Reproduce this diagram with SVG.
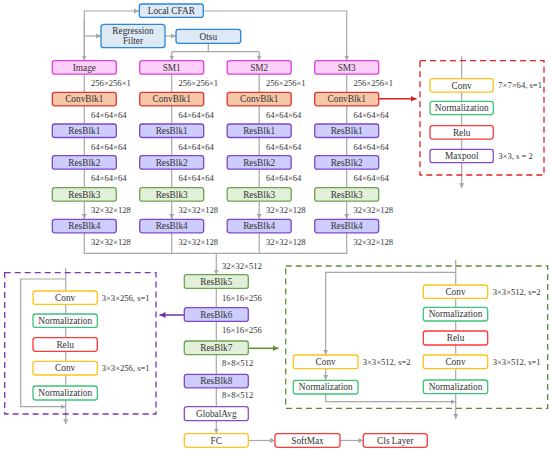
<svg xmlns="http://www.w3.org/2000/svg" width="550" height="454" viewBox="0 0 550 454" font-family="'Liberation Serif', 'DejaVu Serif', serif">
<defs>
<style>
text{font-family:'Liberation Serif','DejaVu Serif',serif;fill:#333}
.t{font-size:9.3px;text-anchor:middle}
.l{font-size:8.6px}
rect{stroke-width:1.3}
.blue{fill:#dde9f5;stroke:#2a86d6}
.img{fill:#fdd0fb;stroke:#dd3fe0}
.cb{fill:#f8c6a8;stroke:#e0352d}
.rb{fill:#cdcdfd;stroke:#8047c8}
.rg{fill:#e2f0d9;stroke:#6fa351}
.yel{fill:#fff;stroke:#ffc21a}
.nor{fill:#fff;stroke:#3cc47a}
.relu{fill:#fff;stroke:#ff3838}
.pur{fill:#fff;stroke:#8a4cc8}
.ln{fill:none;stroke:#a8a8a8;stroke-width:1.2}
.la{fill:none;stroke:#a8a8a8;stroke-width:1.2;marker-end:url(#ag)}
</style>
<marker id="ag" markerWidth="6" markerHeight="6" refX="5" refY="3" orient="auto" markerUnits="userSpaceOnUse"><path d="M0,0.5 L5,3 L0,5.5 z" fill="#a8a8a8"/></marker>
<marker id="ar" markerWidth="7" markerHeight="7" refX="6" refY="3.5" orient="auto" markerUnits="userSpaceOnUse"><path d="M0,0.5 L6,3.5 L0,6.5 z" fill="#d42020"/></marker>
<marker id="ap" markerWidth="7" markerHeight="7" refX="6" refY="3.5" orient="auto" markerUnits="userSpaceOnUse"><path d="M0,0.5 L6,3.5 L0,6.5 z" fill="#7030a0"/></marker>
<marker id="agr" markerWidth="7" markerHeight="7" refX="6" refY="3.5" orient="auto" markerUnits="userSpaceOnUse"><path d="M0,0.5 L6,3.5 L0,6.5 z" fill="#5a9030"/></marker>
</defs>
<rect width="550" height="454" fill="#fff" stroke="none"/>

<g id="connectors">
<path class="la" d="M84.3,61 V11 H139"/>
<path class="la" d="M84.3,36 H101"/>
<path class="la" d="M84.3,20 V60.5"/>
<path class="la" d="M165,36 H176"/>
<path class="ln" d="M208.3,43.3 V51.7 M171.7,51.7 H259.2"/>
<path class="la" d="M171.7,51.7 V60.5"/>
<path class="la" d="M259.2,51.7 V60.5"/>
<path class="la" d="M203.3,11 H346.7 V60.5"/>
<path class="la" d="M84.3,74.2 V92.1 M84.3,105.8 V123.8 M84.3,137.5 V155.5 M84.3,169.2 V187.5 M84.3,201.2 V219.1"/>
<path class="la" d="M171.7,74.2 V92.1 M171.7,105.8 V123.8 M171.7,137.5 V155.5 M171.7,169.2 V187.5 M171.7,201.2 V219.1"/>
<path class="la" d="M259.2,74.2 V92.1 M259.2,105.8 V123.8 M259.2,137.5 V155.5 M259.2,169.2 V187.5 M259.2,201.2 V219.1"/>
<path class="la" d="M346.7,74.2 V92.1 M346.7,105.8 V123.8 M346.7,137.5 V155.5 M346.7,169.2 V187.5 M346.7,201.2 V219.1"/>
<path class="ln" d="M84.3,232.8 V253.3 H346.7 V232.8 M171.7,232.8 V253.3 M259.2,232.8 V253.3"/>
<path class="la" d="M216.3,253.3 V274.5"/>
<path class="la" d="M216.3,288.4 V307.5 M216.3,321.4 V340.8 M216.3,354.7 V374.1 M216.3,387.8 V406.5 M216.3,420.7 V433.5"/>
<path class="la" d="M248.3,440.5 H275"/>
<path class="la" d="M340,440.5 H363.3"/>
<path d="M379,98.7 H416.5" fill="none" stroke="#d42020" stroke-width="1.5" marker-end="url(#ar)"/>
<path class="la" d="M461.7,56 V78.5 M461.7,92.1 V101.1 M461.7,114.7 V125.5 M461.7,139.1 V149.1 M461.7,162.7 V188.3"/>
<path d="M184.3,315 H159.5" fill="none" stroke="#7030a0" stroke-width="1.5" marker-end="url(#ap)"/>
<path class="la" d="M65.7,267.7 V290.8 M65.7,304.4 V313.8 M65.7,327.4 V337.5 M65.7,351.3 V361.1 M65.7,375 V385.8 M65.7,400 V424.3"/>
<path class="la" d="M65.7,279 H20.7 V406.7 H65.5"/>
<path d="M248.3,348.3 H278.5" fill="none" stroke="#5a9030" stroke-width="1.5" marker-end="url(#agr)"/>
<path class="la" d="M455.7,260 V284.8 M455.7,298.4 V307.1 M455.7,321 V330.8 M455.7,345 V354.8 M455.7,368.7 V379.8 M455.7,393.7 V419"/>
<path class="la" d="M455.7,272.3 H325.7 V354.8"/>
<path class="la" d="M325.7,368.7 V380.1"/>
<path class="la" d="M325.7,394 V401.7 H455.5"/>
</g>

<g id="dashed-frames" fill="none" stroke-width="1.8" stroke-dasharray="6,4">
<rect x="420" y="60.7" width="124" height="114.3" stroke="#e02020"/>
<rect x="4.7" y="272.7" width="151.3" height="141.3" stroke="#7a35b0"/>
<rect x="285.7" y="266" width="262" height="142.3" stroke="#5a9030"/>
</g>

<g id="local-cfar"><rect class="blue" x="139.3" y="4" width="64" height="13.4" rx="2.5"/><text class="t" x="171.3" y="14">Local CFAR</text></g>
<g id="regression-filter"><rect class="blue" x="101" y="24.3" width="64" height="23.4" rx="3"/><text class="t" x="133" y="34">Regression</text><text class="t" x="133" y="44">Filter</text></g>
<g id="otsu"><rect class="blue" x="176" y="29.3" width="64.7" height="14" rx="2.5"/><text class="t" x="208.3" y="39.6">Otsu</text></g>

<g id="image"><rect class="img" x="52.3" y="60.7" width="64" height="13.5" rx="2.5"/><text class="t" x="84.3" y="70.8">Image</text></g>
<g id="sm1"><rect class="img" x="139.7" y="60.7" width="64" height="13.5" rx="2.5"/><text class="t" x="171.7" y="70.8">SM1</text></g>
<g id="sm2"><rect class="img" x="227.2" y="60.7" width="64" height="13.5" rx="2.5"/><text class="t" x="259.2" y="70.8">SM2</text></g>
<g id="sm3"><rect class="img" x="314.7" y="60.7" width="64" height="13.5" rx="2.5"/><text class="t" x="346.7" y="70.8">SM3</text></g>

<g id="col1">
<rect class="cb" x="52.3" y="92.3" width="64" height="13.5" rx="2.5"/><text class="t" x="84.3" y="102.4">ConvBlk1</text>
<rect class="rb" x="52.3" y="124" width="64" height="13.5" rx="2.5"/><text class="t" x="84.3" y="134.1">ResBlk1</text>
<rect class="rb" x="52.3" y="155.7" width="64" height="13.5" rx="2.5"/><text class="t" x="84.3" y="165.8">ResBlk2</text>
<rect class="rg" x="52.3" y="187.7" width="64" height="13.5" rx="2.5"/><text class="t" x="84.3" y="197.8">ResBlk3</text>
<rect class="rb" x="52.3" y="219.3" width="64" height="13.5" rx="2.5"/><text class="t" x="84.3" y="229.4">ResBlk4</text>
</g>
<g id="col2">
<rect class="cb" x="139.7" y="92.3" width="64" height="13.5" rx="2.5"/><text class="t" x="171.7" y="102.4">ConvBlk1</text>
<rect class="rb" x="139.7" y="124" width="64" height="13.5" rx="2.5"/><text class="t" x="171.7" y="134.1">ResBlk1</text>
<rect class="rb" x="139.7" y="155.7" width="64" height="13.5" rx="2.5"/><text class="t" x="171.7" y="165.8">ResBlk2</text>
<rect class="rg" x="139.7" y="187.7" width="64" height="13.5" rx="2.5"/><text class="t" x="171.7" y="197.8">ResBlk3</text>
<rect class="rb" x="139.7" y="219.3" width="64" height="13.5" rx="2.5"/><text class="t" x="171.7" y="229.4">ResBlk4</text>
</g>
<g id="col3">
<rect class="cb" x="227.2" y="92.3" width="64" height="13.5" rx="2.5"/><text class="t" x="259.2" y="102.4">ConvBlk1</text>
<rect class="rb" x="227.2" y="124" width="64" height="13.5" rx="2.5"/><text class="t" x="259.2" y="134.1">ResBlk1</text>
<rect class="rb" x="227.2" y="155.7" width="64" height="13.5" rx="2.5"/><text class="t" x="259.2" y="165.8">ResBlk2</text>
<rect class="rg" x="227.2" y="187.7" width="64" height="13.5" rx="2.5"/><text class="t" x="259.2" y="197.8">ResBlk3</text>
<rect class="rb" x="227.2" y="219.3" width="64" height="13.5" rx="2.5"/><text class="t" x="259.2" y="229.4">ResBlk4</text>
</g>
<g id="col4">
<rect class="cb" x="314.7" y="92.3" width="64" height="13.5" rx="2.5"/><text class="t" x="346.7" y="102.4">ConvBlk1</text>
<rect class="rb" x="314.7" y="124" width="64" height="13.5" rx="2.5"/><text class="t" x="346.7" y="134.1">ResBlk1</text>
<rect class="rb" x="314.7" y="155.7" width="64" height="13.5" rx="2.5"/><text class="t" x="346.7" y="165.8">ResBlk2</text>
<rect class="rg" x="314.7" y="187.7" width="64" height="13.5" rx="2.5"/><text class="t" x="346.7" y="197.8">ResBlk3</text>
<rect class="rb" x="314.7" y="219.3" width="64" height="13.5" rx="2.5"/><text class="t" x="346.7" y="229.4">ResBlk4</text>
</g>

<g id="size-labels" class="l">
<text x="91" y="86.3">256×256×1</text><text x="178.4" y="86.3">256×256×1</text><text x="265.9" y="86.3">256×256×1</text><text x="353.4" y="86.3">256×256×1</text>
<text x="91" y="118">64×64×64</text><text x="178.4" y="118">64×64×64</text><text x="265.9" y="118">64×64×64</text><text x="353.4" y="118">64×64×64</text>
<text x="91" y="149.7">64×64×64</text><text x="178.4" y="149.7">64×64×64</text><text x="265.9" y="149.7">64×64×64</text><text x="353.4" y="149.7">64×64×64</text>
<text x="91" y="181.3">64×64×64</text><text x="178.4" y="181.3">64×64×64</text><text x="265.9" y="181.3">64×64×64</text><text x="353.4" y="181.3">64×64×64</text>
<text x="91" y="213">32×32×128</text><text x="178.4" y="213">32×32×128</text><text x="265.9" y="213">32×32×128</text><text x="353.4" y="213">32×32×128</text>
<text x="91" y="245">32×32×128</text><text x="178.4" y="245">32×32×128</text><text x="265.9" y="245">32×32×128</text><text x="353.4" y="245">32×32×128</text>
<text x="222" y="268.7">32×32×512</text>
<text x="222" y="300.7">16×16×256</text>
<text x="222" y="333.3">16×16×256</text>
<text x="222" y="365.7">8×8×512</text>
<text x="222" y="398">8×8×512</text>
<text x="498.3" y="88">7×7×64, s=1</text>
<text x="498.3" y="159">3×3, s = 2</text>
<text x="101.7" y="300.7">3×3×256, s=1</text>
<text x="101.7" y="371">3×3×256, s=1</text>
<text x="492.7" y="294.7">3×3×512, s=2</text>
<text x="492.7" y="365">3×3×512, s=1</text>
<text x="362.7" y="365">3×3×512, s=2</text>
</g>

<g id="resblk5"><rect class="rg" x="184.3" y="274.7" width="64" height="13.7" rx="2.5"/><text class="t" x="216.3" y="284.9">ResBlk5</text></g>
<g id="resblk6"><rect class="rb" x="184.3" y="307.7" width="64" height="13.7" rx="2.5"/><text class="t" x="216.3" y="317.9">ResBlk6</text></g>
<g id="resblk7"><rect class="rg" x="184.3" y="341" width="64" height="13.7" rx="2.5"/><text class="t" x="216.3" y="351.2">ResBlk7</text></g>
<g id="resblk8"><rect class="rb" x="184.3" y="374.3" width="64" height="13.5" rx="2.5"/><text class="t" x="216.3" y="384.4">ResBlk8</text></g>
<g id="globalavg"><rect class="pur" x="184.3" y="406.7" width="64" height="14" rx="2.5"/><text class="t" x="216.3" y="417">GlobalAvg</text></g>
<g id="fc"><rect class="yel" x="184.3" y="433.7" width="64" height="13.6" rx="2.5"/><text class="t" x="216.3" y="443.8">FC</text></g>
<g id="softmax"><rect class="relu" x="275" y="433.7" width="65" height="13.6" rx="2.5"/><text class="t" x="307.5" y="443.8">SoftMax</text></g>
<g id="cls-layer"><rect class="relu" x="363.3" y="433.7" width="64" height="13.6" rx="2.5"/><text class="t" x="395.3" y="443.8">Cls Layer</text></g>

<g id="convblk-detail">
<rect class="yel" x="430" y="78.7" width="63.3" height="13.4" rx="2.5"/><text class="t" x="461.7" y="88.7">Conv</text>
<rect class="nor" x="430" y="101.3" width="63.3" height="13.4" rx="2.5"/><text class="t" x="461.7" y="111.3">Normalization</text>
<rect class="relu" x="430" y="125.7" width="63.3" height="13.4" rx="2.5"/><text class="t" x="461.7" y="135.7">Relu</text>
<rect class="pur" x="430" y="149.3" width="63.3" height="13.4" rx="2.5"/><text class="t" x="461.7" y="159.3">Maxpool</text>
</g>

<g id="resblk-a-detail">
<rect class="yel" x="33" y="291" width="64.3" height="13.4" rx="2.5"/><text class="t" x="65.2" y="301">Conv</text>
<rect class="nor" x="33" y="314" width="64.3" height="13.4" rx="2.5"/><text class="t" x="65.2" y="324">Normalization</text>
<rect class="relu" x="33" y="337.7" width="64.3" height="13.6" rx="2.5"/><text class="t" x="65.2" y="347.8">Relu</text>
<rect class="yel" x="33" y="361.3" width="64.3" height="13.7" rx="2.5"/><text class="t" x="65.2" y="371.4">Conv</text>
<rect class="nor" x="33" y="386" width="64.3" height="14" rx="2.5"/><text class="t" x="65.2" y="396.3">Normalization</text>
</g>

<g id="resblk-b-detail">
<rect class="yel" x="423.3" y="285" width="64.4" height="13.4" rx="2.5"/><text class="t" x="455.5" y="295">Conv</text>
<rect class="nor" x="423.3" y="307.3" width="64.4" height="13.7" rx="2.5"/><text class="t" x="455.5" y="317.4">Normalization</text>
<rect class="relu" x="423.3" y="331" width="64.4" height="14" rx="2.5"/><text class="t" x="455.5" y="341.3">Relu</text>
<rect class="yel" x="423.3" y="355" width="64.4" height="13.7" rx="2.5"/><text class="t" x="455.5" y="365.1">Conv</text>
<rect class="nor" x="423.3" y="380" width="64.4" height="13.7" rx="2.5"/><text class="t" x="455.5" y="390.1">Normalization</text>
<rect class="yel" x="293.3" y="355" width="64.7" height="13.7" rx="2.5"/><text class="t" x="325.7" y="365.1">Conv</text>
<rect class="nor" x="293.3" y="380.3" width="64.7" height="13.7" rx="2.5"/><text class="t" x="325.7" y="390.4">Normalization</text>
</g>
</svg>
